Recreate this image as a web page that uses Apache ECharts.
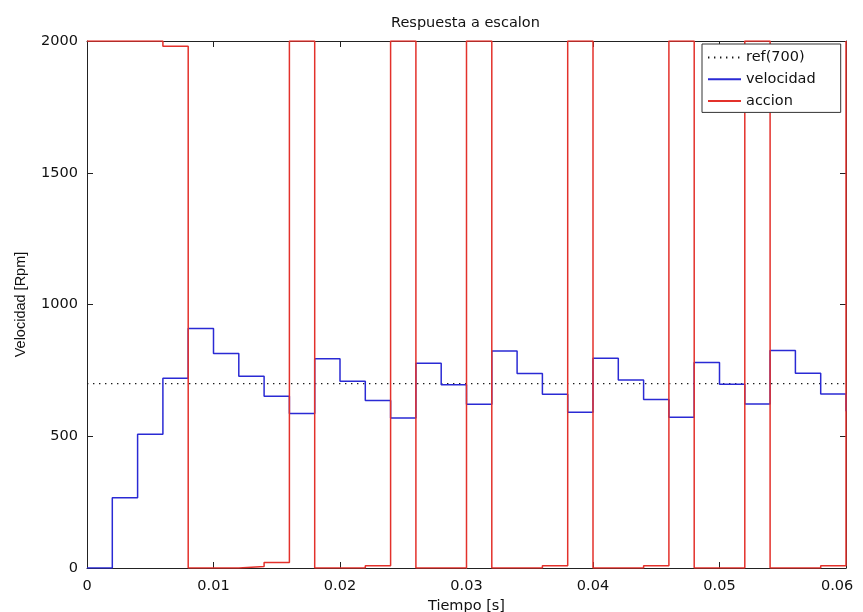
<!DOCTYPE html>
<html>
<head>
<meta charset="utf-8">
<title>Respuesta a escalon</title>
<script src="https://cdn.jsdelivr.net/npm/echarts@6/dist/echarts.min.js"></script>
<style>
  html, body { margin: 0; padding: 0; background: #ffffff; }
  #chart { width: 863px; height: 612px; }
</style>
</head>
<body>
<div id="chart"></div>
<script>
// Sample instants of the discrete controller (Ts = 2 ms)
const tiempo = [
  0, 0.002, 0.004, 0.006, 0.008, 0.010, 0.012, 0.014, 0.016, 0.018,
  0.020, 0.022, 0.024, 0.026, 0.028, 0.030, 0.032, 0.034, 0.036, 0.038,
  0.040, 0.042, 0.044, 0.046, 0.048, 0.050, 0.052, 0.054, 0.056, 0.058,
  0.060
];

// Measured speed [Rpm], held between samples
const velocidad = [
  0, 267, 508, 720, 909, 814, 728, 652, 586, 794,
  709, 636, 569, 777, 695, 621, 824, 738, 659, 591,
  796, 713, 639, 572, 780, 697, 622, 825, 739, 660,
  595
];

// Control action, saturated to 0..2000
const accion = [
  2000, 2000, 2000, 1980, 0, 0, 6, 21, 2000, 0,
  0, 9, 2000, 0, 0, 2000, 0, 0, 9, 2000,
  0, 0, 9, 2000, 0, 0, 2000, 0, 0, 9,
  2000
];

// Speed set-point
const referencia = 700;

// Axis tick labels
const xTickLabels = ['0', '0.01', '0.02', '0.03', '0.04', '0.05', '0.06'];
const yTickLabels = ['0', '500', '1000', '1500', '2000'];

const X_MIN = 0, X_MAX = 0.06, X_STEP = 0.01;
const Y_MIN = 0, Y_MAX = 2000, Y_STEP = 500;

const pairs = (vals) => tiempo.map((t, i) => [t, vals[i]]);

const labelFont = 'DejaVu Sans';
const axisColor = '#222222';
const textColor = '#111111';

// the last x label is set in a wider, left-aligned box so it stays inside the canvas
const xLabel = (v) => {
  const i = Math.round((v - X_MIN) / X_STEP);
  const s = xTickLabels[i] ?? '';
  return i === xTickLabels.length - 1 ? '{last|' + s + '}' : s;
};
const yLabel = (v) => yTickLabels[Math.round((v - Y_MIN) / Y_STEP)] ?? '';

const baseAxis = {
  axisLine: { show: true, onZero: false, lineStyle: { color: axisColor, width: 1 } },
  axisTick: { show: true, inside: true, length: 6, lineStyle: { color: axisColor, width: 1 } },
  splitLine: { show: false }
};

const chart = echarts.init(document.getElementById('chart'), null, { renderer: 'canvas' });

chart.setOption({
  animation: false,
  backgroundColor: '#ffffff',
  title: {
    text: 'Respuesta a escalon',
    left: 386,
    top: 11,
    textStyle: { fontFamily: labelFont, fontSize: 14.5, fontWeight: 'normal', color: textColor }
  },
  grid: { left: 87, right: 17, top: 41, bottom: 44, containLabel: false, outerBoundsMode: 'none' },
  legend: {
    orient: 'vertical',
    left: 702,
    top: 44,
    padding: [6, 25, 4, 5],
    itemGap: 6.7,
    itemWidth: 33,
    itemHeight: 15,
    borderColor: '#333333',
    borderWidth: 1,
    backgroundColor: '#ffffff',
    // line-only keys: hide the marker drawn in the middle of each key
    itemStyle: { color: 'rgba(0,0,0,0)', borderWidth: 0, opacity: 0 },
    textStyle: { fontFamily: labelFont, fontSize: 14.5, color: textColor, lineHeight: 15 },
    data: ['ref(700)', 'velocidad', 'accion']
  },
  xAxis: [
    Object.assign({}, baseAxis, {
      type: 'value', position: 'bottom',
      min: X_MIN, max: X_MAX, interval: X_STEP,
      name: 'Tiempo [s]', nameLocation: 'middle', nameGap: 28,
      nameTextStyle: { fontFamily: labelFont, fontSize: 14.5, color: textColor },
      axisLabel: {
        margin: 11, fontFamily: labelFont, fontSize: 14.5, color: textColor, formatter: xLabel,
        hideOverlap: false,
        rich: {
          last: { fontFamily: labelFont, fontSize: 14.5, color: textColor, width: 50, align: 'left' }
        }
      }
    }),
    Object.assign({}, baseAxis, {
      type: 'value', position: 'top',
      min: X_MIN, max: X_MAX, interval: X_STEP,
      axisLabel: { show: false }
    })
  ],
  yAxis: [
    Object.assign({}, baseAxis, {
      type: 'value', position: 'left',
      min: Y_MIN, max: Y_MAX, interval: Y_STEP,
      name: 'Velocidad [Rpm]', nameLocation: 'middle', nameGap: 59, nameRotate: 90,
      nameTextStyle: { fontFamily: 'Liberation Sans', fontSize: 14.5, color: textColor },
      axisLabel: { margin: 9, fontFamily: labelFont, fontSize: 14.5, color: textColor, formatter: yLabel }
    }),
    Object.assign({}, baseAxis, {
      type: 'value', position: 'right',
      min: Y_MIN, max: Y_MAX, interval: Y_STEP,
      axisLabel: { show: false }
    })
  ],
  series: [
    {
      name: 'ref(700)',
      type: 'line',
      xAxisIndex: 0, yAxisIndex: 0,
      symbol: 'none',
      data: [[tiempo[0], referencia], [tiempo[tiempo.length - 1], referencia]],
      lineStyle: { color: '#1a1a1a', width: 1.3, type: [1.4, 4.6] },
      itemStyle: { color: '#1a1a1a' }
    },
    {
      name: 'velocidad',
      type: 'line',
      step: 'end',
      xAxisIndex: 0, yAxisIndex: 0,
      symbol: 'none',
      data: pairs(velocidad),
      lineStyle: { color: '#2a2ad4', width: 1.5 },
      itemStyle: { color: '#2a2ad4' }
    },
    {
      name: 'accion',
      type: 'line',
      step: 'end',
      xAxisIndex: 0, yAxisIndex: 0,
      symbol: 'none',
      data: pairs(accion),
      lineStyle: { color: '#e3312b', width: 1.5 },
      itemStyle: { color: '#e3312b' }
    }
  ]
});
</script>
</body>
</html>
